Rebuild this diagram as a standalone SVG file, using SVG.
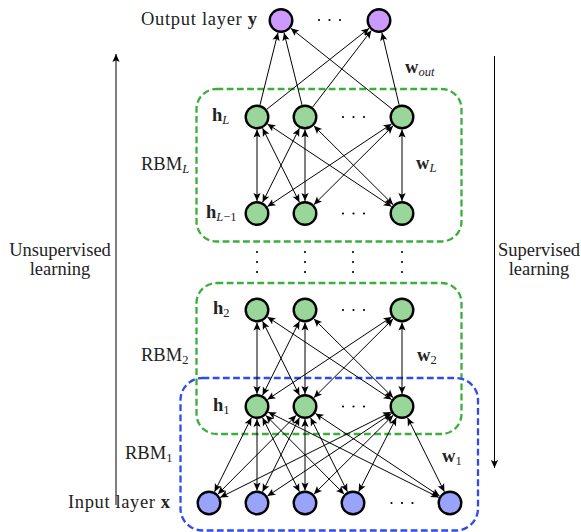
<svg xmlns="http://www.w3.org/2000/svg" width="581" height="532" viewBox="0 0 581 532">
<defs>
<marker id="ah" markerUnits="userSpaceOnUse" markerWidth="10" markerHeight="10" viewBox="-9 -5 10 10" refX="0" refY="0" orient="auto-start-reverse">
<path d="M0,0 L-8,-3.6 L-6.2,0 L-8,3.6 Z" fill="#000"/>
</marker>
<style>
.conn line{stroke:#000;stroke-width:1;fill:none;marker-end:url(#ah)}
.conn line.bi{marker-start:url(#ah)}
.node circle{stroke:#000;stroke-width:2.4}
.out{fill:#cc99ff}
.hid{fill:#99d699}
.inp{fill:#99a3fb}
.dots circle{fill:#000}
.boxg{fill:none;stroke:#3cae3c;stroke-width:2.3;stroke-dasharray:6.8 3.4}
.boxb{fill:none;stroke:#2f4bf0;stroke-width:2.3;stroke-dasharray:6.8 3.4}
text{font-family:"Liberation Serif","Times New Roman",serif;font-size:18.5px;fill:#222}
.b{font-weight:bold}
.sub{font-size:12.5px}
.it{font-style:italic}
</style>
</defs>

<g id="boxes">
<rect id="rbmL-box" class="boxg" x="196.5" y="89" width="265" height="152.5" rx="20"/>
<rect id="rbm2-box" class="boxg" x="196.5" y="283" width="265" height="151" rx="20"/>
<rect id="rbm1-box" class="boxb" x="180.5" y="378" width="297.5" height="152.5" rx="22"/>
</g>

<g id="side-arrows" class="conn">
<line x1="116" y1="505" x2="116" y2="54"/>
<line x1="494.5" y1="56" x2="494.5" y2="468"/>
</g>

<g id="connectors" class="conn">
<line x1="260.02" y1="104.87" x2="277.98" y2="32.63"/>
<line x1="301.98" y1="104.87" x2="284.02" y2="32.63"/>
<line x1="392.23" y1="109.21" x2="290.77" y2="28.29"/>
<line x1="266.80" y1="109.25" x2="369.20" y2="28.25"/>
<line x1="312.61" y1="107.08" x2="371.39" y2="30.42"/>
<line x1="399.10" y1="104.84" x2="381.90" y2="32.66"/>
<line class="bi" x1="257" y1="201" x2="257" y2="129.5"/>
<line class="bi" x1="262.57" y1="202.31" x2="299.43" y2="128.19"/>
<line class="bi" x1="267.41" y1="206.58" x2="391.59" y2="123.93"/>
<line class="bi" x1="299.43" y1="202.31" x2="262.57" y2="128.19"/>
<line class="bi" x1="305" y1="201" x2="305" y2="129.5"/>
<line class="bi" x1="313.86" y1="204.68" x2="393.14" y2="125.82"/>
<line class="bi" x1="391.59" y1="206.58" x2="267.41" y2="123.93"/>
<line class="bi" x1="393.14" y1="204.68" x2="313.86" y2="125.82"/>
<line class="bi" x1="402" y1="201" x2="402" y2="129.5"/>
<line class="bi" x1="257" y1="394" x2="257" y2="322.5"/>
<line class="bi" x1="262.57" y1="395.31" x2="299.43" y2="321.19"/>
<line class="bi" x1="267.41" y1="399.58" x2="391.59" y2="316.93"/>
<line class="bi" x1="299.43" y1="395.31" x2="262.57" y2="321.19"/>
<line class="bi" x1="305" y1="394" x2="305" y2="322.5"/>
<line class="bi" x1="313.86" y1="397.68" x2="393.14" y2="318.82"/>
<line class="bi" x1="391.59" y1="399.58" x2="267.41" y2="316.93"/>
<line class="bi" x1="393.14" y1="397.68" x2="313.86" y2="318.82"/>
<line class="bi" x1="402" y1="394" x2="402" y2="322.5"/>
<line class="bi" x1="214.57" y1="491.81" x2="251.43" y2="417.69"/>
<line class="bi" x1="217.82" y1="494.14" x2="296.18" y2="415.36"/>
<line class="bi" x1="220.18" y1="497.41" x2="390.82" y2="412.09"/>
<line class="bi" x1="257" y1="490.5" x2="257" y2="419"/>
<line class="bi" x1="262.57" y1="491.81" x2="299.43" y2="417.69"/>
<line class="bi" x1="267.41" y1="496.08" x2="391.59" y2="413.43"/>
<line class="bi" x1="299.43" y1="491.81" x2="262.57" y2="417.69"/>
<line class="bi" x1="305" y1="490.5" x2="305" y2="419"/>
<line class="bi" x1="313.86" y1="494.18" x2="393.14" y2="415.32"/>
<line class="bi" x1="344.18" y1="494.14" x2="265.82" y2="415.36"/>
<line class="bi" x1="347.43" y1="491.81" x2="310.57" y2="417.69"/>
<line class="bi" x1="358.66" y1="491.86" x2="396.34" y2="417.65"/>
<line class="bi" x1="438.82" y1="497.41" x2="268.18" y2="412.09"/>
<line class="bi" x1="439.59" y1="496.08" x2="315.41" y2="413.43"/>
<line class="bi" x1="444.43" y1="491.81" x2="407.57" y2="417.69"/>
</g>

<g id="output-layer">
<g id="y1" class="node"><circle class="out" cx="281" cy="20.5" r="11.3"/></g>
<g id="y2" class="node"><circle class="out" cx="379" cy="20.5" r="11.3"/></g>
</g>
<g id="hL-layer">
<g id="hL1" class="node"><circle class="hid" cx="257" cy="117" r="11.3"/></g>
<g id="hL2" class="node"><circle class="hid" cx="305" cy="117" r="11.3"/></g>
<g id="hL3" class="node"><circle class="hid" cx="402" cy="117" r="11.3"/></g>
</g>
<g id="hLm1-layer">
<g id="hLm1_1" class="node"><circle class="hid" cx="257" cy="213.5" r="11.3"/></g>
<g id="hLm1_2" class="node"><circle class="hid" cx="305" cy="213.5" r="11.3"/></g>
<g id="hLm1_3" class="node"><circle class="hid" cx="402" cy="213.5" r="11.3"/></g>
</g>
<g id="h2-layer">
<g id="h2_1" class="node"><circle class="hid" cx="257" cy="310" r="11.3"/></g>
<g id="h2_2" class="node"><circle class="hid" cx="305" cy="310" r="11.3"/></g>
<g id="h2_3" class="node"><circle class="hid" cx="402" cy="310" r="11.3"/></g>
</g>
<g id="h1-layer">
<g id="h1_1" class="node"><circle class="hid" cx="257" cy="406.5" r="11.3"/></g>
<g id="h1_2" class="node"><circle class="hid" cx="305" cy="406.5" r="11.3"/></g>
<g id="h1_3" class="node"><circle class="hid" cx="402" cy="406.5" r="11.3"/></g>
</g>
<g id="input-layer">
<g id="x1" class="node"><circle class="inp" cx="209" cy="503" r="11.3"/></g>
<g id="x2" class="node"><circle class="inp" cx="257" cy="503" r="11.3"/></g>
<g id="x3" class="node"><circle class="inp" cx="305" cy="503" r="11.3"/></g>
<g id="x4" class="node"><circle class="inp" cx="353" cy="503" r="11.3"/></g>
<g id="x5" class="node"><circle class="inp" cx="450" cy="503" r="11.3"/></g>
</g>

<g id="dots" class="dots">
<circle cx="319" cy="20" r="1.1"/><circle cx="329.5" cy="20" r="1.1"/><circle cx="340" cy="20" r="1.1"/>
<circle cx="343" cy="117" r="1.1"/><circle cx="353.5" cy="117" r="1.1"/><circle cx="364" cy="117" r="1.1"/>
<circle cx="343" cy="213.5" r="1.1"/><circle cx="353.5" cy="213.5" r="1.1"/><circle cx="364" cy="213.5" r="1.1"/>
<circle cx="343" cy="310" r="1.1"/><circle cx="353.5" cy="310" r="1.1"/><circle cx="364" cy="310" r="1.1"/>
<circle cx="343" cy="406.5" r="1.1"/><circle cx="353.5" cy="406.5" r="1.1"/><circle cx="364" cy="406.5" r="1.1"/>
<circle cx="391.5" cy="503" r="1.1"/><circle cx="402" cy="503" r="1.1"/><circle cx="412.5" cy="503" r="1.1"/>
<circle cx="257" cy="252" r="1.1"/><circle cx="257" cy="262" r="1.1"/><circle cx="257" cy="272" r="1.1"/>
<circle cx="305" cy="252" r="1.1"/><circle cx="305" cy="262" r="1.1"/><circle cx="305" cy="272" r="1.1"/>
<circle cx="353" cy="252" r="1.1"/><circle cx="353" cy="262" r="1.1"/><circle cx="353" cy="272" r="1.1"/>
<circle cx="402" cy="252" r="1.1"/><circle cx="402" cy="262" r="1.1"/><circle cx="402" cy="272" r="1.1"/>
</g>

<g id="labels">
<text x="141" y="25" textLength="116" lengthAdjust="spacing">Output layer <tspan class="b">y</tspan></text>
<text x="405" y="73"><tspan class="b">w</tspan><tspan class="sub it" dy="3">out</tspan></text>
<text x="212" y="121"><tspan class="b">h</tspan><tspan class="sub it" dy="3">L</tspan></text>
<text x="141" y="170">RBM<tspan class="sub it" dy="3">L</tspan></text>
<text x="416" y="168.5"><tspan class="b">w</tspan><tspan class="sub it" dy="3">L</tspan></text>
<text x="206" y="217.5"><tspan class="b">h</tspan><tspan class="sub" dy="3"><tspan class="it">L</tspan>−1</tspan></text>
<text x="213" y="314"><tspan class="b">h</tspan><tspan class="sub" dy="3">2</tspan></text>
<text x="141" y="361">RBM<tspan class="sub" dy="3">2</tspan></text>
<text x="417" y="361"><tspan class="b">w</tspan><tspan class="sub" dy="3">2</tspan></text>
<text x="213" y="411"><tspan class="b">h</tspan><tspan class="sub" dy="3">1</tspan></text>
<text x="125" y="459">RBM<tspan class="sub" dy="3">1</tspan></text>
<text x="442" y="462"><tspan class="b">w</tspan><tspan class="sub" dy="3">1</tspan></text>
<text x="68" y="508" textLength="102" lengthAdjust="spacing">Input layer <tspan class="b">x</tspan></text>
<text x="60" y="256" text-anchor="middle">Unsupervised</text>
<text x="60" y="275" text-anchor="middle">learning</text>
<text x="539" y="256" text-anchor="middle">Supervised</text>
<text x="539" y="275" text-anchor="middle">learning</text>
</g>
</svg>
